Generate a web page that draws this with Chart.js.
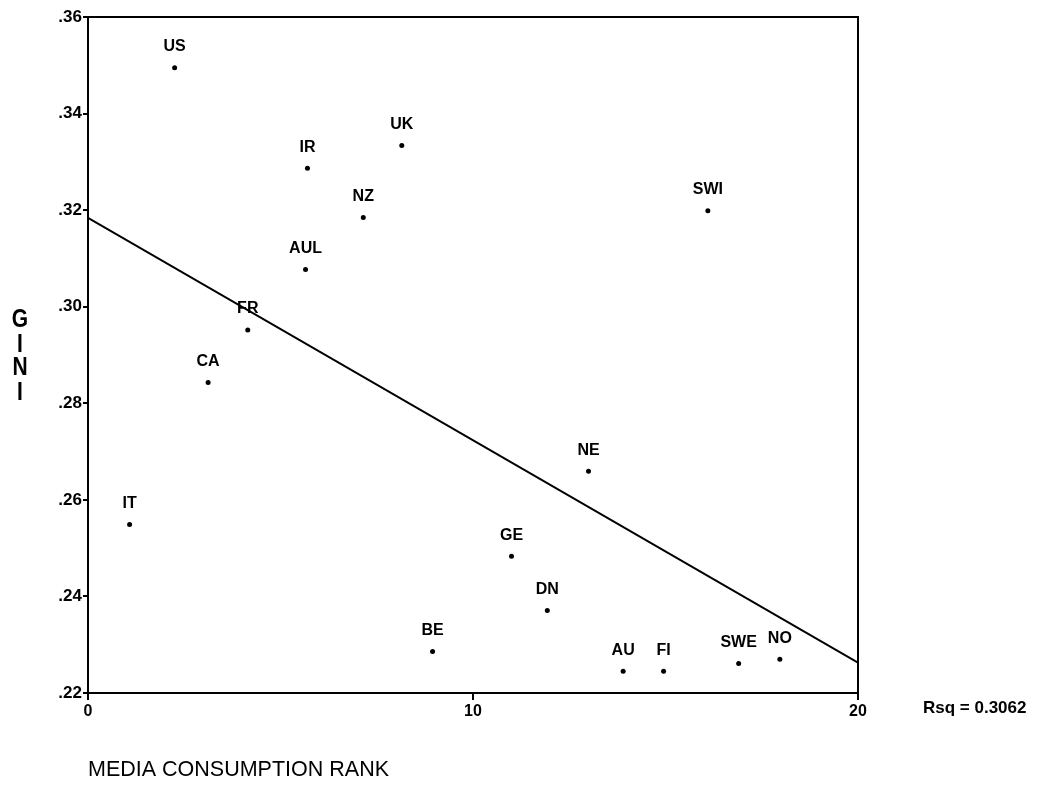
<!DOCTYPE html>
<html>
<head>
<meta charset="utf-8">
<script src="https://cdn.jsdelivr.net/npm/chart.js@4"></script>
<style>
  html, body { margin: 0; padding: 0; background: #fff; }
  #wrap { width: 1056px; height: 797px; }
</style>
</head>
<body>
<div id="wrap"><canvas id="giniChart"></canvas></div>
<script>
// Country codes with media consumption rank (x) and Gini coefficient (y)
const countries = ['US', 'IR', 'UK', 'NZ', 'AUL', 'FR', 'CA', 'IT', 'SWI', 'NE', 'GE', 'DN', 'BE', 'AU', 'FI', 'SWE', 'NO'];
const mediaRank = [2.25, 5.7, 8.15, 7.15, 5.65, 4.15, 3.12, 1.08, 16.1, 13.0, 11.0, 11.93, 8.95, 13.9, 14.95, 16.9, 17.97];
const gini = [0.3495, 0.3287, 0.3334, 0.3185, 0.3077, 0.2952, 0.2843, 0.2549, 0.3199, 0.2659, 0.2483, 0.2371, 0.2286, 0.2245, 0.2245, 0.2261, 0.2270];

// Fit line endpoints
const fitX = [0, 20];
const fitY = [0.3184, 0.2263];
const rsqText = 'Rsq = 0.3062';

const yTitleLetters = ['G', 'I', 'N', 'I'];

const boldFont = '"Liberation Sans", Arial, sans-serif';

const points = mediaRank.map((x, i) => ({ x: x, y: gini[i] }));
const fitPoints = fitX.map((x, i) => ({ x: x, y: fitY[i] }));

// Draws point labels, frame, stacked y title and Rsq note
const extrasPlugin = {
  id: 'extras',
  afterDatasetsDraw(chart) {
    const ctx = chart.ctx;
    const area = chart.chartArea;
    ctx.save();

    // frame round the plot area
    ctx.strokeStyle = '#000';
    ctx.lineWidth = 2;
    ctx.strokeRect(area.left, area.top, area.right - area.left, area.bottom - area.top);

    // point labels
    const meta = chart.getDatasetMeta(0);
    ctx.fillStyle = '#000';
    ctx.font = 'bold 16px ' + boldFont;
    ctx.textAlign = 'center';
    ctx.textBaseline = 'middle';
    meta.data.forEach((pt, i) => {
      ctx.fillText(countries[i], pt.x, pt.y - 21);
    });

    // stacked y axis title
    ctx.font = 'bold 21px ' + boldFont;
    const ys = [320, 345, 368, 393];
    yTitleLetters.forEach((ch, i) => {
      ctx.save();
      ctx.translate(20, ys[i]);
      ctx.scale(1, 1.25);
      ctx.fillText(ch, 0, 0);
      ctx.restore();
    });

    // Rsq note
    ctx.font = 'bold 17px ' + boldFont;
    ctx.textAlign = 'left';
    ctx.fillText(rsqText, 923, 708);

    ctx.restore();
  }
};

const ctx = document.getElementById('giniChart').getContext('2d');

new Chart(ctx, {
  type: 'scatter',
  data: {
    datasets: [{
      label: 'Countries',
      data: points,
      pointRadius: 2.5,
      pointBackgroundColor: '#000',
      pointBorderColor: '#000',
      pointBorderWidth: 0
    }, {
      type: 'line',
      label: 'Fit',
      data: fitPoints,
      borderColor: '#000',
      borderWidth: 2,
      pointRadius: 0,
      fill: false
    }]
  },
  options: {
    responsive: true,
    maintainAspectRatio: false,
    animation: false,
    layout: {
      padding: { left: 0, right: 198, top: 17, bottom: 10 }
    },
    plugins: {
      legend: { display: false },
      tooltip: { enabled: false }
    },
    scales: {
      x: {
        type: 'linear',
        min: 0,
        max: 20,
        afterFit(scale) { scale.height = 94; },
        border: { display: true, color: '#000', width: 2 },
        grid: {
          drawOnChartArea: false,
          color: '#000',
          lineWidth: 2,
          tickLength: 7
        },
        ticks: {
          stepSize: 10,
          color: '#000',
          padding: 2,
          font: { family: boldFont, size: 16, weight: 'bold' }
        },
        title: {
          display: true,
          text: 'MEDIA CONSUMPTION RANK',
          align: 'start',
          color: '#000',
          padding: { top: 24 },
          font: { family: boldFont, size: 21.5, weight: 'normal' }
        }
      },
      y: {
        type: 'linear',
        min: 0.22,
        max: 0.36,
        afterFit(scale) { scale.width = 88; },
        border: { display: true, color: '#000', width: 2 },
        grid: {
          drawOnChartArea: false,
          color: '#000',
          lineWidth: 2,
          tickLength: 5
        },
        ticks: {
          stepSize: 0.02,
          color: '#000',
          padding: 1,
          font: { family: boldFont, size: 17, weight: 'bold' },
          callback: (v) => v.toFixed(2).replace(/^0/, '')
        }
      }
    }
  },
  plugins: [extrasPlugin]
});
</script>
</body>
</html>
